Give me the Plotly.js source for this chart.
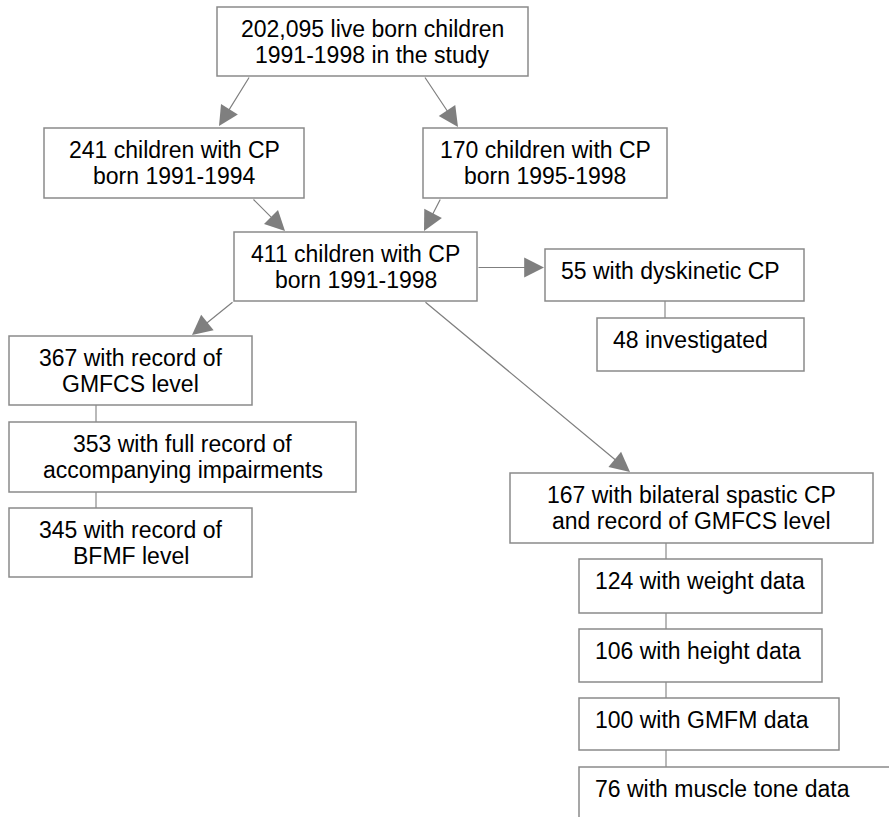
<!DOCTYPE html>
<html>
<head>
<meta charset="utf-8">
<script src="https://cdn.plot.ly/plotly-3.0.1.min.js"></script>
<style>html,body{margin:0;padding:0;background:#fff;}#chart{width:889px;height:817px;}</style>
</head>
<body>
<div id="chart"></div>
<script>
// ---- data: flowchart node labels (counts and descriptions) ----
const nodeCounts = ["202,095", "241", "170", "411", "55", "48", "367", "353", "345", "167", "124", "106", "100", "76"];
const nodeLine1 = [
  "live born children",
  "children with CP",
  "children with CP",
  "children with CP",
  "with dyskinetic CP",
  "investigated",
  "with record of",
  "with full record of",
  "with record of",
  "with bilateral spastic CP",
  "with weight data",
  "with height data",
  "with GMFM data",
  "with muscle tone data"
];
const nodeLine2 = [
  "1991-1998 in the study",
  "born 1991-1994",
  "born 1995-1998",
  "born 1991-1998",
  "", "",
  "GMFCS level",
  "accompanying impairments",
  "BFMF level",
  "and record of GMFCS level",
  "", "", "", ""
];
// arrows: [from node, to node]
const arrowEdges = [[0,1],[0,2],[1,3],[2,3],[3,4],[3,6],[3,9]];
// plain connectors: [from node, to node]
const lineEdges = [[4,5],[6,7],[7,8],[9,10],[10,11],[11,12],[12,13]];

// ---- layout geometry (pixel-like data coordinates) ----
const boxRect = [ // x0, x1, y0, y1
  [217,528,7,76],[44,304,128,198],[423,667,128,198],[234,477,232,301],
  [545,804,249,301],[597,804,318,371],[9,252,336,405],[9,356,422,492],
  [9,252,508,577],[510,873,473,543],[579,822,559,613],[579,822,629,682],
  [579,839,698,750],[579,905,767,835]
];
const arrowGeom = [ // tailX, tailY, tipX, tipY
  [250,76,219,126],[424,76,458,127],[252,198,285,231],[441,198,424,231],
  [477,267.5,544,267.5],[234,301,192,335],[424,301,630,472]
];
const lineGeom = [ // x, y0, y1
  [665,301,318],[96,405,422],[96,492,508],[666,543,559],[666,613,629],[666,682,698],[666,750,767]
];

const FONT = {family: "'Liberation Sans', Arial, Helvetica, sans-serif", size: 23, color: "#000"};
const GRAY = "#8a8a8a";

const shapes = [];
const annotations = [];

boxRect.forEach((r) => {
  shapes.push({type: "rect", xref: "x", yref: "y", x0: r[0], x1: r[1], y0: r[2], y1: r[3],
    line: {color: GRAY, width: 1.5}, fillcolor: "#fff", layer: "above"});
});
lineGeom.forEach((l) => {
  shapes.push({type: "line", xref: "x", yref: "y", x0: l[0], x1: l[0], y0: l[1], y1: l[2],
    line: {color: GRAY, width: 1.2}, layer: "above"});
});

nodeCounts.forEach((c, i) => {
  const r = boxRect[i];
  const t1 = c + " " + nodeLine1[i];
  if (nodeLine2[i]) {
    const cx = (r[0] + r[1]) / 2, cy = (r[2] + r[3]) / 2;
    annotations.push({x: cx, y: cy - 13, xref: "x", yref: "y", text: t1, showarrow: false,
      xanchor: "center", yanchor: "middle", font: FONT});
    annotations.push({x: cx, y: cy + 13, xref: "x", yref: "y", text: nodeLine2[i], showarrow: false,
      xanchor: "center", yanchor: "middle", font: FONT});
  } else {
    annotations.push({x: r[0] + 14, y: r[2] + 22, xref: "x", yref: "y", text: t1, showarrow: false,
      xanchor: "left", yanchor: "middle", font: FONT});
  }
});

arrowGeom.forEach((a) => {
  annotations.push({x: a[2], y: a[3], ax: a[0], ay: a[1], xref: "x", yref: "y", axref: "x", ayref: "y",
    text: "", showarrow: true, arrowhead: 2, arrowsize: 3.3, arrowwidth: 1.2, arrowcolor: "#7f7f7f", standoff: 0});
});

const layout = {
  width: 889, height: 817,
  margin: {l: 0, r: 0, t: 0, b: 0, pad: 0},
  paper_bgcolor: "#fff", plot_bgcolor: "#fff",
  xaxis: {range: [0, 889], visible: false, fixedrange: true},
  yaxis: {range: [817, 0], visible: false, fixedrange: true},
  showlegend: false,
  shapes: shapes,
  annotations: annotations
};

Plotly.newPlot("chart", [{x: [], y: [], type: "scatter", mode: "markers", hoverinfo: "skip"}], layout,
  {staticPlot: true, displayModeBar: false});
</script>
</body>
</html>
